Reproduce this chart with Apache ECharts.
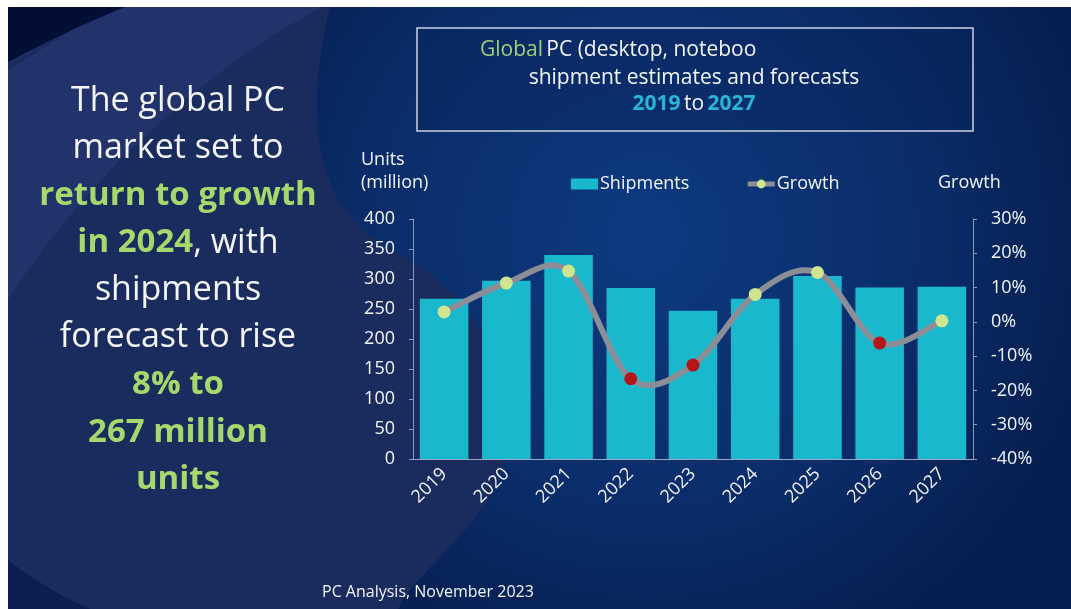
<!DOCTYPE html>
<html>
<head>
<meta charset="utf-8">
<script src="https://cdn.jsdelivr.net/npm/echarts@6/dist/echarts.min.js"></script>
<style>
  html, body { margin: 0; padding: 0; background: #ffffff; }
  #chart { width: 1071px; height: 609px; }
</style>
</head>
<body>
<div id="chart"></div>
<script>
// Global PC shipments (million units) and year-on-year growth (%)
const years = ['2019', '2020', '2021', '2022', '2023', '2024', '2025', '2026', '2027'];
const shipments = [267, 297, 340, 285, 247, 267, 305, 286, 287];
const growth = [2.9, 11.3, 14.8, -16.6, -12.6, 8.0, 14.4, -6.2, 0.3];
const leftTicks = { min: 0, max: 400, step: 50 };
const rightTicks = { min: -40, max: 30, step: 10 };

const FONT = '"Open Sans", "Noto Sans", sans-serif';
const WHITE = '#f2f5fa';
const GREEN = '#a6d86e';
const CYAN = '#2ab4d6';
const BAR = '#1ab8cc';
const LINE = '#8b8e96';

// Turn a list of line / cubic-curve segments into polygon points for the backdrop shapes
function outline(start, segs) {
  const pts = [start.slice()];
  let cur = start.slice();
  segs.forEach(s => {
    if (s[0] === 'L') {
      cur = [s[1], s[2]];
      pts.push(cur);
    } else {
      const [, x1, y1, x2, y2, x, y] = s;
      for (let i = 1; i <= 24; i++) {
        const t = i / 24, u = 1 - t;
        pts.push([
          u * u * u * cur[0] + 3 * u * u * t * x1 + 3 * u * t * t * x2 + t * t * t * x,
          u * u * u * cur[1] + 3 * u * u * t * y1 + 3 * u * t * t * y2 + t * t * t * y
        ]);
      }
      cur = [x, y];
    }
  });
  return pts;
}

const chart = echarts.init(document.getElementById('chart'), null, { renderer: 'canvas' });

const headline = [
  [{ t: 'The global PC', s: 'w' }],
  [{ t: 'market set to', s: 'w' }],
  [{ t: 'return to growth', s: 'g' }],
  [{ t: 'in 2024', s: 'g' }, { t: ', with', s: 'w' }],
  [{ t: 'shipments', s: 'w' }],
  [{ t: 'forecast to rise', s: 'w' }],
  [{ t: '8% to', s: 'g' }],
  [{ t: '267 million', s: 'g' }],
  [{ t: 'units', s: 'g' }]
];

const headlineGraphics = headline.map((parts, i) => ({
  type: 'text',
  x: 178,
  y: 101 + i * 47.3,
  style: {
    text: parts.map(p => '{' + p.s + '|' + p.t + '}').join(''),
    align: 'center',
    verticalAlign: 'middle',
    rich: {
      w: { fontFamily: FONT, fontSize: 34, fontWeight: 'normal', fill: WHITE },
      g: { fontFamily: FONT, fontSize: 33, fontWeight: 'bold', fill: GREEN }
    }
  },
  z: 5
}));

// Smoothed growth curve: one cubic segment per pair of neighbouring years
function renderGrowthSegment(params, api) {
  const i = params.dataIndex;
  const n = growth.length;
  if (i >= n - 1) return null;
  const P = j => api.coord([Math.max(0, Math.min(n - 1, j)), growth[Math.max(0, Math.min(n - 1, j))]]);
  const p0 = P(i - 1), p1 = P(i), p2 = P(i + 1), p3 = P(i + 2);
  const k = 1 / 6;
  return {
    type: 'bezierCurve',
    shape: {
      x1: p1[0], y1: p1[1],
      cpx1: p1[0] + (p2[0] - p0[0]) * k, cpy1: p1[1] + (p2[1] - p0[1]) * k,
      cpx2: p2[0] - (p3[0] - p1[0]) * k, cpy2: p2[1] - (p3[1] - p1[1]) * k,
      x2: p2[0], y2: p2[1]
    },
    style: { stroke: LINE, lineWidth: 6, fill: null, lineCap: 'round' }
  };
}

const option = {
  backgroundColor: '#ffffff',
  animation: false,
  graphic: [
    // page background
    {
      type: 'rect', shape: { x: 8, y: 7, width: 1063, height: 602 }, z: -10,
      style: {
        fill: new echarts.graphic.RadialGradient(0.6, 0.38, 0.75, [
          { offset: 0, color: '#0d3a80' },
          { offset: 0.6, color: '#0a2d6a' },
          { offset: 1, color: '#061f50' }
        ])
      }
    },
    // slate swoosh behind the headline
    {
      type: 'polygon', z: -9,
      shape: { points: outline([8, 7], [['L', 330, 7], ['C', 300, 130, 320, 215, 397, 253], ['C', 470, 290, 530, 380, 505, 460], ['C', 485, 530, 420, 565, 398, 609], ['L', 8, 609]]) },
      style: { fill: '#1a2c5e' }
    },
    {
      type: 'polygon', z: -8,
      shape: { points: outline([110, 7], [['L', 322, 7], ['C', 220, 60, 90, 170, 8, 300], ['L', 8, 70]]) },
      style: { fill: '#21336a' }
    },
    // dark corners
    {
      type: 'polygon', z: -7,
      shape: { points: outline([8, 7], [['L', 125, 7], ['C', 80, 25, 40, 45, 8, 62]]) },
      style: { fill: '#030e36' }
    },
    {
      type: 'polygon', z: -7,
      shape: { points: outline([8, 560], [['C', 40, 585, 70, 600, 90, 609], ['L', 8, 609]]) },
      style: { fill: '#0e1d50' }
    },
    // title box
    {
      type: 'rect', shape: { x: 417, y: 28, width: 556, height: 103 }, z: 1,
      style: { fill: 'rgba(8,35,90,0.35)', stroke: '#c9d2e0', lineWidth: 1.5 }
    },
    {
      type: 'text', x: 480, y: 50, z: 5,
      style: {
        text: '{g|Global} {w|PC (desktop, noteboo}',
        verticalAlign: 'middle',
        rich: {
          g: { fontFamily: FONT, fontSize: 21, fill: '#9fd07a' },
          w: { fontFamily: FONT, fontSize: 21, fill: WHITE }
        }
      }
    },
    {
      type: 'text', x: 694, y: 78, z: 5,
      style: {
        text: 'shipment estimates and forecasts',
        align: 'center', verticalAlign: 'middle',
        font: '21px ' + FONT, fill: WHITE
      }
    },
    {
      type: 'text', x: 694, y: 104, z: 5,
      style: {
        text: '{c|2019} {w|to} {c|2027}',
        align: 'center', verticalAlign: 'middle',
        rich: {
          c: { fontFamily: FONT, fontSize: 21, fontWeight: 'bold', fill: CYAN },
          w: { fontFamily: FONT, fontSize: 21, fill: WHITE }
        }
      }
    },
    // axis captions
    {
      type: 'text', x: 361, y: 171, z: 5,
      style: {
        text: 'Units\n(million)', verticalAlign: 'middle', lineHeight: 23,
        font: '18px ' + FONT, fill: WHITE
      }
    },
    {
      type: 'text', x: 938, y: 183, z: 5,
      style: { text: 'Growth', verticalAlign: 'middle', font: '18px ' + FONT, fill: WHITE }
    },
    // source line
    {
      type: 'text', x: 322, y: 592, z: 5,
      style: { text: 'PC Analysis, November 2023', verticalAlign: 'middle', font: '16px ' + FONT, fill: WHITE }
    },
    // white page margins
    { type: 'rect', shape: { x: 0, y: 0, width: 1071, height: 7 }, z: 20, style: { fill: '#ffffff' } },
    { type: 'rect', shape: { x: 0, y: 0, width: 8, height: 609 }, z: 20, style: { fill: '#ffffff' } }
  ].concat(headlineGraphics),
  legend: {
    left: 566,
    top: 170,
    itemWidth: 27,
    itemHeight: 11,
    itemGap: 56,
    textStyle: { color: WHITE, fontFamily: FONT, fontSize: 18, padding: [0, 0, 0, -3] },
    data: [
      { name: 'Shipments', icon: 'rect', itemStyle: { color: BAR } },
      { name: 'Growth', itemStyle: { color: '#cfe58f', borderWidth: 0 }, lineStyle: { color: LINE, width: 5, opacity: 1 } }
    ]
  },
  grid: { left: 413, right: 98, top: 219, bottom: 150, containLabel: false },
  xAxis: {
    type: 'category',
    data: years,
    axisLine: { show: true, lineStyle: { color: '#9aa6c4', width: 1 } },
    axisTick: { show: false },
    axisLabel: { color: WHITE, fontFamily: FONT, fontSize: 18, rotate: 45, margin: 12 }
  },
  yAxis: [
    {
      type: 'value',
      min: leftTicks.min, max: leftTicks.max, interval: leftTicks.step,
      position: 'left',
      axisLine: { show: true, lineStyle: { color: '#8a98ba', width: 1 } },
      axisTick: { show: true, length: 4, lineStyle: { color: '#8a98ba' } },
      splitLine: { show: false },
      axisLabel: { color: WHITE, fontFamily: FONT, fontSize: 18, margin: 18 }
    },
    {
      type: 'value',
      min: rightTicks.min, max: rightTicks.max, interval: rightTicks.step,
      position: 'right',
      axisLine: { show: true, lineStyle: { color: '#8a98ba', width: 1 } },
      axisTick: { show: true, length: 4, lineStyle: { color: '#8a98ba' } },
      splitLine: { show: false },
      axisLabel: { color: WHITE, fontFamily: FONT, fontSize: 18, margin: 18, formatter: '{value}%' }
    }
  ],
  series: [
    {
      name: 'Shipments',
      type: 'bar',
      data: shipments,
      barCategoryGap: '22%',
      itemStyle: { color: BAR },
      z: 2
    },
    {
      name: 'Growth curve',
      type: 'custom',
      yAxisIndex: 1,
      data: growth.map((v, i) => [i, v]),
      renderItem: renderGrowthSegment,
      silent: true,
      z: 3
    },
    {
      name: 'Growth',
      type: 'line',
      yAxisIndex: 1,
      data: growth,
      symbol: 'circle',
      symbolSize: 13,
      lineStyle: { color: LINE, width: 6, opacity: 0 },
      itemStyle: {
        color: p => (p.value >= 0 ? '#cfe58f' : '#b3171a')
      },
      z: 4
    }
  ]
};

chart.setOption(option);
</script>
</body>
</html>
